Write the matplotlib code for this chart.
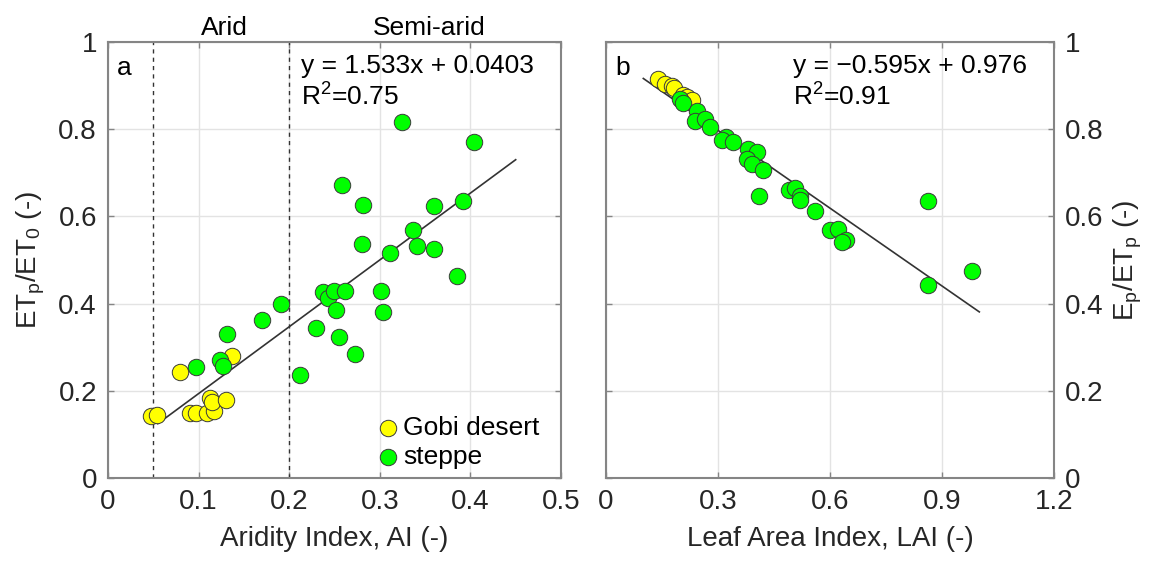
import matplotlib
matplotlib.use('Agg')
import matplotlib.pyplot as plt
import numpy as np

plt.rcParams['font.family'] = ['Liberation Sans', 'DejaVu Sans']
plt.rcParams['mathtext.fontset'] = 'custom'
plt.rcParams['mathtext.rm'] = 'Liberation Sans'
plt.rcParams['mathtext.it'] = 'Liberation Sans:italic'

# Panel a: aridity index vs ETp/ET0
ai_gobi = [0.048, 0.054, 0.080, 0.137, 0.0905, 0.097, 0.109, 0.117, 0.113, 0.115, 0.130]
et_gobi = [0.142, 0.144, 0.244, 0.279, 0.150, 0.150, 0.150, 0.153, 0.184, 0.175, 0.180]
ai_steppe = [0.097, 0.124, 0.127, 0.131, 0.170, 0.191, 0.212, 0.230, 0.237, 0.2425,
             0.249, 0.262, 0.252, 0.255, 0.273, 0.301, 0.304, 0.311, 0.385, 0.3245,
             0.4036, 0.2586, 0.2815, 0.3595, 0.392, 0.337, 0.2803, 0.341, 0.3595]
et_steppe = [0.255, 0.270, 0.257, 0.330, 0.362, 0.399, 0.236, 0.344, 0.426, 0.412,
             0.428, 0.428, 0.385, 0.324, 0.284, 0.428, 0.381, 0.517, 0.464, 0.817,
             0.770, 0.672, 0.627, 0.625, 0.636, 0.568, 0.536, 0.533, 0.525]
fit_a = (1.533, 0.0403)
fit_a_range = (0.055, 0.45)
r2_a = 0.75

# Panel b: leaf area index vs Ep/ETp
lai_gobi = [0.140, 0.158, 0.178, 0.183, 0.205, 0.216, 0.2295]
ep_gobi = [0.916, 0.904, 0.900, 0.895, 0.878, 0.875, 0.868]
lai_steppe = [0.198, 0.207, 0.243, 0.238, 0.265, 0.279, 0.321, 0.310, 0.341, 0.381,
              0.404, 0.379, 0.390, 0.420, 0.410, 0.491, 0.506, 0.520, 0.520, 0.560,
              0.600, 0.622, 0.643, 0.631, 0.862, 0.862, 0.981]
ep_steppe = [0.870, 0.860, 0.843, 0.820, 0.824, 0.805, 0.783, 0.776, 0.770, 0.755,
             0.748, 0.732, 0.721, 0.706, 0.647, 0.661, 0.666, 0.648, 0.637, 0.612,
             0.568, 0.572, 0.545, 0.541, 0.635, 0.442, 0.475]
fit_b = (-0.595, 0.976)
fit_b_range = (0.10, 1.00)
r2_b = 0.91

dashed_ai = [0.05, 0.2]

tick_color = '#262626'
spine_color = '#858585'
fs = 20
fs_txt = 19

fig = plt.figure(figsize=(11.6, 5.61), dpi=100)
ax_a = fig.add_axes([0.0931, 0.148, 0.3905, 0.777])
ax_b = fig.add_axes([0.5224, 0.148, 0.3862, 0.777])


def style(ax):
    ax.grid(True, color='#e3e3e3', linewidth=1.0)
    ax.set_axisbelow(True)
    for s in ax.spines.values():
        s.set_color(spine_color)
        s.set_linewidth(1.5)
    ax.tick_params(direction='in', length=4, width=1.0, color=spine_color,
                   labelcolor=tick_color, labelsize=fs, pad=8,
                   top=True, right=True, bottom=True, left=True)


def dots(ax, x, y, color, label):
    ax.scatter(x, y, s=140, facecolor=color, edgecolor='#3a3a3a',
               linewidth=0.7, zorder=3, label=label)


# --- panel a ---
style(ax_a)
for xv in dashed_ai:
    ax_a.axvline(xv, color='#333333', linestyle=(0, (3, 3)), linewidth=1.0, zorder=2)
xa = np.array(fit_a_range)
ax_a.plot(xa, fit_a[0] * xa + fit_a[1], color='#333333', linewidth=1.2, zorder=2)
dots(ax_a, ai_gobi, et_gobi, '#ffff00', 'Gobi desert')
dots(ax_a, ai_steppe, et_steppe, '#00ff00', 'steppe')
ax_a.set_xlim(0, 0.5)
ax_a.set_ylim(0, 1)
ax_a.set_xticks([0, 0.1, 0.2, 0.3, 0.4, 0.5])
ax_a.set_xticklabels(['0', '0.1', '0.2', '0.3', '0.4', '0.5'])
ax_a.set_yticks([0, 0.2, 0.4, 0.6, 0.8, 1])
ax_a.set_yticklabels(['0', '0.2', '0.4', '0.6', '0.8', '1'])
ax_a.set_xlabel('Aridity Index, AI (-)', fontsize=fs, color=tick_color, labelpad=8)
ax_a.set_ylabel(r'ET$_\mathregular{p}$/ET$_\mathregular{0}$ (-)', fontsize=fs,
                color=tick_color, labelpad=8)
ax_a.text(0.02, 0.94, 'a', transform=ax_a.transAxes, fontsize=fs_txt, va='center')
ax_a.text(0.213, 0.944, 'y = %.3fx + %.4f' % fit_a, fontsize=fs_txt, va='center')
ax_a.text(0.213, 0.873, r'R$^\mathregular{2}$=%.2f' % r2_a, fontsize=fs_txt, va='center')
ax_a.text(0.129, 1.016, 'Arid', transform=ax_a.get_xaxis_transform(),
          fontsize=fs_txt, ha='center', va='baseline')
ax_a.text(0.355, 1.016, 'Semi-arid', transform=ax_a.get_xaxis_transform(),
          fontsize=fs_txt, ha='center', va='baseline')
ax_a.legend(loc='lower left', bbox_to_anchor=(0.59, 0.008), frameon=False,
            fontsize=fs_txt, handlelength=0.6, handletextpad=0.25,
            labelspacing=0.2, borderaxespad=0, borderpad=0.2)

# --- panel b ---
style(ax_b)
xb = np.array(fit_b_range)
ax_b.plot(xb, fit_b[0] * xb + fit_b[1], color='#333333', linewidth=1.2, zorder=2)
dots(ax_b, lai_gobi, ep_gobi, '#ffff00', 'Gobi desert')
dots(ax_b, lai_steppe, ep_steppe, '#00ff00', 'steppe')
ax_b.set_xlim(0, 1.2)
ax_b.set_ylim(0, 1)
ax_b.set_xticks([0, 0.3, 0.6, 0.9, 1.2])
ax_b.set_xticklabels(['0', '0.3', '0.6', '0.9', '1.2'])
ax_b.set_yticks([0, 0.2, 0.4, 0.6, 0.8, 1])
ax_b.set_yticklabels(['0', '0.2', '0.4', '0.6', '0.8', '1'])
ax_b.yaxis.tick_right()
ax_b.tick_params(left=True, labelleft=False, labelright=True)
ax_b.yaxis.set_label_position('right')
ax_b.set_xlabel('Leaf Area Index, LAI (-)', fontsize=fs, color=tick_color, labelpad=8)
ax_b.set_ylabel(r'E$_\mathregular{p}$/ET$_\mathregular{p}$ (-)', fontsize=fs,
                color=tick_color, labelpad=6)
ax_b.text(0.02, 0.94, 'b', transform=ax_b.transAxes, fontsize=fs_txt, va='center')
ax_b.text(0.50, 0.944, 'y = \u2212%.3fx + %.3f' % (-fit_b[0], fit_b[1]),
          fontsize=fs_txt, va='center')
ax_b.text(0.50, 0.873, r'R$^\mathregular{2}$=%.2f' % r2_b, fontsize=fs_txt, va='center')

fig.savefig('out.png', dpi=100)
